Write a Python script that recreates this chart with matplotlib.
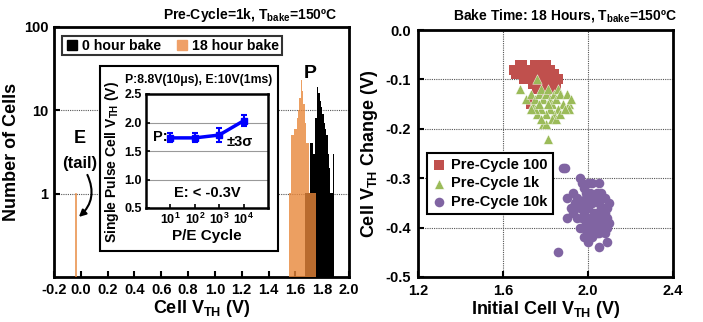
import matplotlib
matplotlib.use("Agg")
import matplotlib.pyplot as plt
from matplotlib.lines import Line2D
from matplotlib.patches import Rectangle

plt.rcParams['font.family'] = ['Liberation Sans', 'DejaVu Sans']
plt.rcParams['font.weight'] = 'bold'
plt.rcParams['mathtext.fontset'] = 'custom'
plt.rcParams['mathtext.rm'] = 'Liberation Sans:bold'
plt.rcParams['mathtext.bf'] = 'Liberation Sans:bold'
plt.rcParams['mathtext.it'] = 'Liberation Sans:bold'

# ---------------- data: left histogram ----------------
black_v = [1.675, 1.685, 1.695, 1.705, 1.715, 1.725, 1.735, 1.745, 1.755, 1.765, 1.775,
           1.785, 1.795, 1.805, 1.815, 1.825, 1.835, 1.845, 1.855, 1.865, 1.875, 1.885]
black_n = [1, 1, 1, 1, 4, 4, 3, 3, 8, 19, 16, 13, 11, 9, 7, 6, 5, 3, 2, 1, 1, 3]
orange_v = [-0.04, 1.555, 1.565, 1.575, 1.585, 1.595, 1.605, 1.615, 1.625, 1.635, 1.645,
            1.655, 1.665, 1.675, 1.685, 1.695, 1.705, 1.715, 1.725, 1.735, 1.745]
orange_n = [1, 1, 1, 5, 5, 6, 6, 8, 10, 14, 23, 17, 12, 7, 4, 4, 1, 1, 1, 1, 1]

# inset data
pe_cycle = [10, 100, 1000, 10000]
p_vth = [1.73, 1.73, 1.78, 2.03]
p_err = [0.08, 0.08, 0.12, 0.10]

# ---------------- data: right scatter ----------------
red_x = [1.66, 1.67, 1.68, 1.69, 1.66, 1.68, 1.70, 1.71, 1.72, 1.73, 1.74, 1.75, 1.76, 1.77,
         1.78, 1.79, 1.80, 1.81, 1.82, 1.83, 1.84, 1.85, 1.86, 1.85, 1.76, 1.78, 1.80, 1.77,
         1.79, 1.81, 1.83, 1.74, 1.76, 1.78, 1.82, 1.84, 1.70, 1.69, 1.73, 1.80, 1.65, 1.72]
red_y = [-0.08, -0.08, -0.07, -0.07, -0.09, -0.09, -0.08, -0.09, -0.10, -0.09, -0.08, -0.07,
         -0.07, -0.07, -0.07, -0.07, -0.07, -0.08, -0.08, -0.09, -0.09, -0.10, -0.10, -0.11,
         -0.08, -0.09, -0.09, -0.10, -0.11, -0.10, -0.11, -0.11, -0.12, -0.12, -0.12, -0.12,
         -0.10, -0.09, -0.15, -0.13, -0.08, -0.08]
green_x = [1.68, 1.76, 1.71, 1.73, 1.74, 1.75, 1.77, 1.78, 1.79, 1.80, 1.81, 1.82, 1.83, 1.84,
           1.85, 1.86, 1.87, 1.88, 1.86, 1.84, 1.82, 1.80, 1.78, 1.76, 1.75, 1.79, 1.80, 1.81,
           1.83, 1.85, 1.87, 1.90, 1.91, 1.92, 1.91, 1.89, 1.77, 1.81, 1.73, 1.78]
green_y = [-0.12, -0.10, -0.14, -0.13, -0.15, -0.14, -0.13, -0.12, -0.14, -0.13, -0.12, -0.14,
           -0.15, -0.13, -0.14, -0.12, -0.13, -0.15, -0.16, -0.17, -0.16, -0.17, -0.16, -0.17,
           -0.16, -0.19, -0.19, -0.22, -0.18, -0.18, -0.17, -0.13, -0.15, -0.14, -0.16, -0.16,
           -0.15, -0.15, -0.16, -0.18]
purple_x = [1.88, 1.89, 1.86, 2.09, 2.05, 1.90, 1.90, 1.93, 1.93, 1.96, 1.97, 2.00, 2.02, 2.05,
            1.98, 2.00, 2.06, 2.08, 1.95, 1.97, 1.99, 2.01, 2.03, 2.05, 2.07, 2.09, 1.96, 1.98,
            2.00, 2.02, 2.04, 2.06, 2.08, 1.95, 1.97, 1.99, 2.01, 2.03, 2.05, 2.07, 2.09, 1.96,
            1.98, 2.00, 2.02, 2.04, 2.06, 2.08, 1.97, 1.99, 2.01, 2.03, 2.05, 2.07, 2.09, 2.00,
            2.02, 2.04, 2.06, 1.94, 1.92, 2.10, 2.10, 1.98, 2.04]
purple_y = [-0.28, -0.28, -0.45, -0.43, -0.44, -0.34, -0.38, -0.33, -0.37, -0.30, -0.31, -0.31,
            -0.31, -0.31, -0.42, -0.43, -0.33, -0.34, -0.34, -0.35, -0.34, -0.33, -0.34, -0.35,
            -0.34, -0.36, -0.36, -0.37, -0.36, -0.35, -0.37, -0.36, -0.37, -0.38, -0.38, -0.39,
            -0.38, -0.37, -0.38, -0.39, -0.38, -0.40, -0.40, -0.39, -0.40, -0.39, -0.40, -0.41,
            -0.36, -0.33, -0.35, -0.39, -0.41, -0.36, -0.40, -0.41, -0.42, -0.41, -0.38, -0.35,
            -0.36, -0.35, -0.39, -0.32, -0.33]

# ---------------- figure ----------------
fig = plt.figure(figsize=(7.03, 3.22), dpi=100)
W, H = 703, 322

def fr(x0, y0, x1, y1):
    return [x0 / W, 1 - y1 / H, (x1 - x0) / W, (y1 - y0) / H]

# ---- left histogram ----
ax = fig.add_axes(fr(54, 27, 349, 277))
ax.set_yscale('log')
ax.set_xlim(-0.2, 2.0)
ax.set_ylim(0.1, 100)
for yv in [1, 10]:
    ax.axhline(yv, color='#555555', ls=(0, (1, 1)), lw=0.8, zorder=0)
ax.bar(black_v, black_n, width=0.0105, bottom=0.01, color='black', lw=0, zorder=2)
orange_lw = [0.5 if v < 0.5 else 0 for v in orange_v]
ax.bar(orange_v, orange_n, width=0.0105, bottom=0.01, color='#E8873A', alpha=0.8,
       edgecolor='#E8873A', linewidth=orange_lw, zorder=3)
ax.set_xticks([-0.2, 0.0, 0.2, 0.4, 0.6, 0.8, 1.0, 1.2, 1.4, 1.6, 1.8, 2.0])
ax.set_xticklabels(['-0.2', '0.0', '0.2', '0.4', '0.6', '0.8', '1.0', '1.2', '1.4', '1.6', '1.8', '2.0'])
ax.set_yticks([1, 10, 100])
ax.set_yticklabels(['1', '10', '100'])
ax.yaxis.set_minor_locator(matplotlib.ticker.NullLocator())
ax.tick_params(direction='in', length=4, width=1.5, labelsize=10.5, pad=4)
for s in ax.spines.values():
    s.set_linewidth(2)
ax.set_xlabel(r'Cell V$_{\mathbf{TH}}$ (V)', fontsize=13, fontweight='bold', labelpad=1)
ax.set_ylabel('Number of Cells', fontsize=13, fontweight='bold', labelpad=3)
leg_h = [Line2D([], [], marker='s', ls='', color='black', markersize=7),
         Line2D([], [], marker='s', ls='', color='#EFA068', markersize=7)]
leg = ax.legend(leg_h, ['0 hour bake', '18 hour bake'], ncol=2, loc='upper left',
                bbox_to_anchor=(0.027, 0.965), borderaxespad=0, fancybox=False,
                edgecolor='black', fontsize=10.2, handletextpad=0.2, columnspacing=1.0,
                borderpad=0.2, handlelength=1.0)
leg.get_frame().set_linewidth(1.5)
ax.text(1.71, 28, 'P', fontsize=14, fontweight='bold', ha='center', va='center')
ax.text(-0.005, 4.6, 'E', fontsize=13, fontweight='bold', ha='center', va='center')
ax.text(-0.005, 2.3, '(tail)', fontsize=12, fontweight='bold', ha='center', va='center')
ax.annotate('', xy=(-0.03, 0.5), xytext=(0.04, 1.8),
            arrowprops=dict(arrowstyle='-|>', color='black', lw=1.5,
                            connectionstyle='arc3,rad=-0.4', mutation_scale=10))
fig.text(337 / W, 1 - 15 / H, r'Pre-Cycle=1k, T$_{\mathbf{bake}}$=150ºC', ha='right', va='center',
         fontsize=10, fontweight='bold')

# ---- inset ----
box = Rectangle((100 / W, 1 - 251 / H), 178 / W, 185 / H, transform=fig.transFigure,
                facecolor='white', edgecolor='black', lw=1.5, zorder=5)
fig.patches.append(box)
ai = fig.add_axes(fr(146, 94, 268, 208), zorder=6)
ai.set_xscale('log')
ai.set_xlim(1, 1e5)
ai.set_ylim(0.5, 2.5)
ai.set_yticks([0.5, 1.0, 1.5, 2.0, 2.5])
ai.set_yticklabels(['0.5', '1.0', '1.5', '2.0', '2.5'])
ai.set_xticks(pe_cycle)
ai.set_xticklabels([r'10$^{1}$', r'10$^{2}$', r'10$^{3}$', r'10$^{4}$'])
ai.xaxis.set_minor_locator(matplotlib.ticker.NullLocator())
for yv in [1.0, 1.5, 2.0]:
    ai.axhline(yv, color='#999999', lw=0.8, zorder=0)
ai.errorbar(pe_cycle, p_vth, yerr=p_err, color='#0000FF', lw=2.5, marker='s', markersize=5,
            capsize=2.5, elinewidth=1.5, capthick=1.5)
ai.tick_params(direction='in', length=3, width=1.2, labelsize=9, pad=3)
for s in ai.spines.values():
    s.set_linewidth(1.8)
ai.set_xlabel('P/E Cycle', fontsize=11, fontweight='bold', labelpad=1)
ai.set_ylabel(r'Single Pulse Cell V$_{\mathbf{TH}}$ (V)', fontsize=10, fontweight='bold')
ai.yaxis.set_label_coords(-0.205, 0.40)
ai.text(14 / 122, 1 - 43 / 114, 'P:', transform=ai.transAxes, fontsize=10.5, fontweight='bold',
        ha='center', va='center')
ai.text(94 / 122, 1 - 48 / 114, '±3σ', transform=ai.transAxes, fontsize=10.5, fontweight='bold',
        ha='center', va='center')
ai.text(61 / 122, 1 - 99 / 114, 'E: < -0.3V', transform=ai.transAxes, fontsize=10.5,
        fontweight='bold', ha='center', va='center')
fig.text(199 / W, 1 - 80 / H, 'P:8.8V(10μs), E:10V(1ms)', ha='center', va='center',
         fontsize=8.8, fontweight='bold', zorder=7)

# ---- right scatter ----
ar = fig.add_axes(fr(418, 30, 673, 277))
ar.set_xlim(1.2, 2.4)
ar.set_ylim(-0.5, 0.0)
ar.set_xticks([1.2, 1.6, 2.0, 2.4])
ar.set_xticklabels(['1.2', '1.6', '2.0', '2.4'])
ar.set_yticks([-0.5, -0.4, -0.3, -0.2, -0.1, 0.0])
ar.set_yticklabels(['-0.5', '-0.4', '-0.3', '-0.2', '-0.1', '0.0'])
ar.grid(True, color='#555555', ls=(0, (1, 1)), lw=0.8, zorder=0)
ar.set_axisbelow(True)
ar.scatter(red_x, red_y, marker='s', s=42, color='#C0504D', lw=0, zorder=3, label='Pre-Cycle 100')
ar.scatter(green_x, green_y, marker='^', s=48, color='#9BBB59', edgecolor='white', lw=0.3,
           zorder=4, label='Pre-Cycle 1k')
ar.scatter(purple_x, purple_y, marker='o', s=48, color='#8064A2', lw=0, zorder=3,
           label='Pre-Cycle 10k')
ar.tick_params(direction='in', length=4, width=1.5, labelsize=10.5, pad=5)
for s in ar.spines.values():
    s.set_linewidth(2)
ar.set_xlabel(r'Initial Cell V$_{\mathbf{TH}}$ (V)', fontsize=13, fontweight='bold', labelpad=1)
ar.set_ylabel(r'Cell V$_{\mathbf{TH}}$ Change (V)', fontsize=13, fontweight='bold', labelpad=4)
leg2 = ar.legend(loc='upper left', bbox_to_anchor=(0.035, 0.502), borderaxespad=0,
                 fancybox=False, edgecolor='black', fontsize=10.5, handletextpad=0.3,
                 borderpad=0.35, handlelength=1.0, labelspacing=0.3, framealpha=1)
leg2.get_frame().set_linewidth(1.5)
fig.text(677 / W, 1 - 15 / H, r'Bake Time: 18 Hours, T$_{\mathbf{bake}}$=150ºC', ha='right',
         va='center', fontsize=10, fontweight='bold')

fig.savefig('out.png', dpi=100)
